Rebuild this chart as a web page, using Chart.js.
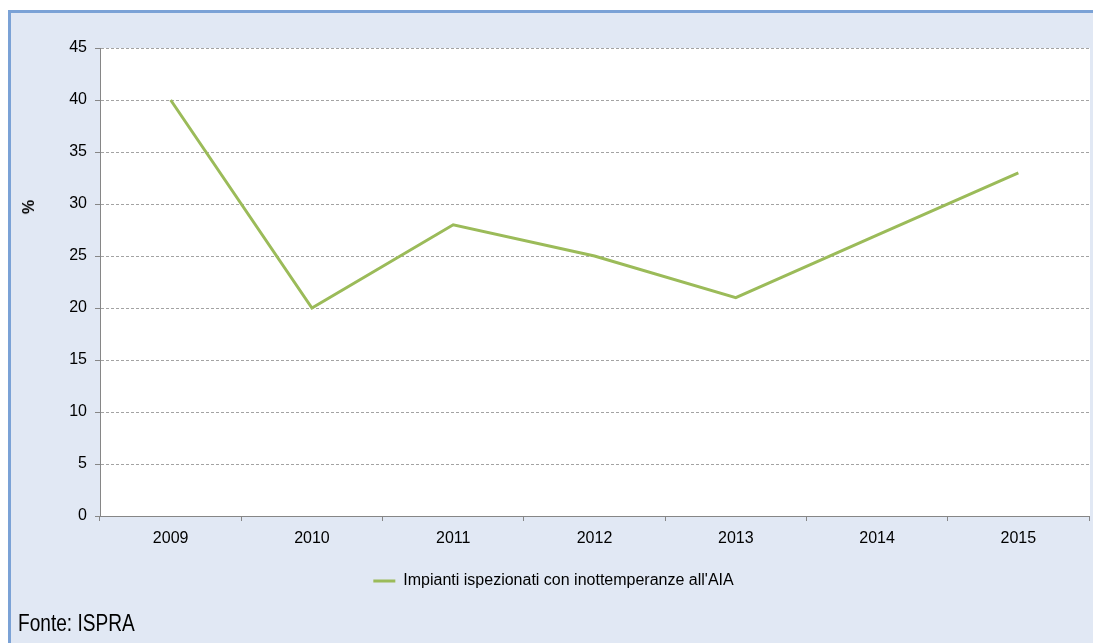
<!DOCTYPE html>
<html>
<head>
<meta charset="utf-8">
<script src="https://cdn.jsdelivr.net/npm/chart.js@4.4.1/dist/chart.umd.min.js"></script>
<style>
  html, body { margin: 0; padding: 0; background: #ffffff; }
  #wrap { position: relative; width: 1093px; height: 643px; }
  #myChart { position: absolute; left: 0; top: 0; }
  .yTitle {
    position: absolute; left: 29px; top: 207px;
    font: bold 16px 'Liberation Sans', Arial, sans-serif; color: #000;
    transform: translate(-50%, -50%) rotate(-90deg);
    white-space: nowrap;
  }
  .source {
    position: absolute; left: 18px; top: 612px;
    font: 23px 'Liberation Sans', Arial, sans-serif; line-height: 1; color: #000;
    transform: scaleX(0.83); transform-origin: left top;
    white-space: nowrap;
  }
</style>
</head>
<body>
<div id="wrap">
  <canvas id="myChart" width="1093" height="643"></canvas>
  <div class="yTitle" id="yTitle"></div>
  <div class="source" id="source"></div>
</div>
<script>
const years = ['2009', '2010', '2011', '2012', '2013', '2014', '2015'];
const inottemperanze = [40, 20, 28, 25, 21, 27, 33];
const seriesLabel = "Impianti ispezionati con inottemperanze all'AIA";
const unitLabel = '%';
const sourceNote = 'Fonte: ISPRA';

const GREEN = '#9bbb59';
const AXIS = '#868686';
const GRID = '#a3a3a3';
const FONT = "'Liberation Sans', Arial, sans-serif";

document.getElementById('yTitle').textContent = unitLabel;
document.getElementById('source').textContent = sourceNote;

// panel background, frame and white plot area
const panelBackground = {
  id: 'panelBackground',
  beforeDraw(chart) {
    const { ctx, width, height, chartArea } = chart;
    ctx.save();
    ctx.fillStyle = '#ffffff';
    ctx.fillRect(0, 0, width, height);
    ctx.fillStyle = '#e1e8f4';
    ctx.fillRect(9, 12, width - 9, height - 12);
    ctx.strokeStyle = '#7ba2d6';
    ctx.lineWidth = 3;
    ctx.beginPath();
    ctx.moveTo(9.5, height);
    ctx.lineTo(9.5, 11.5);
    ctx.lineTo(width, 11.5);
    ctx.stroke();
    ctx.fillStyle = '#ffffff';
    ctx.fillRect(chartArea.left, chartArea.top, chartArea.right - chartArea.left + 1, chartArea.bottom - chartArea.top);
    ctx.restore();
  }
};

const ctx = document.getElementById('myChart').getContext('2d');
new Chart(ctx, {
  type: 'line',
  data: {
    labels: years,
    datasets: [
      {
        label: seriesLabel,
        data: inottemperanze,
        borderColor: GREEN,
        backgroundColor: GREEN,
        borderWidth: 3,
        pointRadius: 0,
        tension: 0,
        fill: false,
      },
    ],
  },
  options: {
    responsive: false,
    animation: false,
    devicePixelRatio: 1,
    layout: {
      padding: { left: 18, right: 4, top: 48, bottom: 44 },
    },
    scales: {
      x: {
        offset: true,
        afterFit: (scale) => { scale.height = 47; },
        grid: {
          offset: true,
          drawOnChartArea: false,
          drawTicks: true,
          tickLength: 5,
          color: AXIS,
        },
        border: { display: true, color: AXIS, width: 1 },
        ticks: {
          padding: 8,
          color: '#000000',
          font: { size: 16, family: FONT },
          maxRotation: 0,
        },
      },
      y: {
        min: 0,
        max: 45,
        afterFit: (scale) => { scale.width = 82; },
        grid: {
          color: GRID,
          tickColor: AXIS,
          tickLength: 5,
          lineWidth: 1,
        },
        border: { display: true, color: AXIS, width: 1, dash: [3, 2] },
        ticks: {
          stepSize: 5,
          padding: 8,
          color: '#000000',
          font: { size: 16, family: FONT },
        },
      },
    },
    plugins: {
      legend: {
        position: 'bottom',
        labels: {
          boxWidth: 22,
          boxHeight: 3,
          padding: 10,
          color: '#000000',
          font: { size: 16, family: FONT },
          generateLabels: (chart) =>
            Chart.defaults.plugins.legend.labels.generateLabels(chart).map((item) => ({
              ...item,
              lineWidth: 0,
            })),
        },
      },
      tooltip: { enabled: false },
    },
  },
  plugins: [panelBackground],
});
</script>
</body>
</html>
